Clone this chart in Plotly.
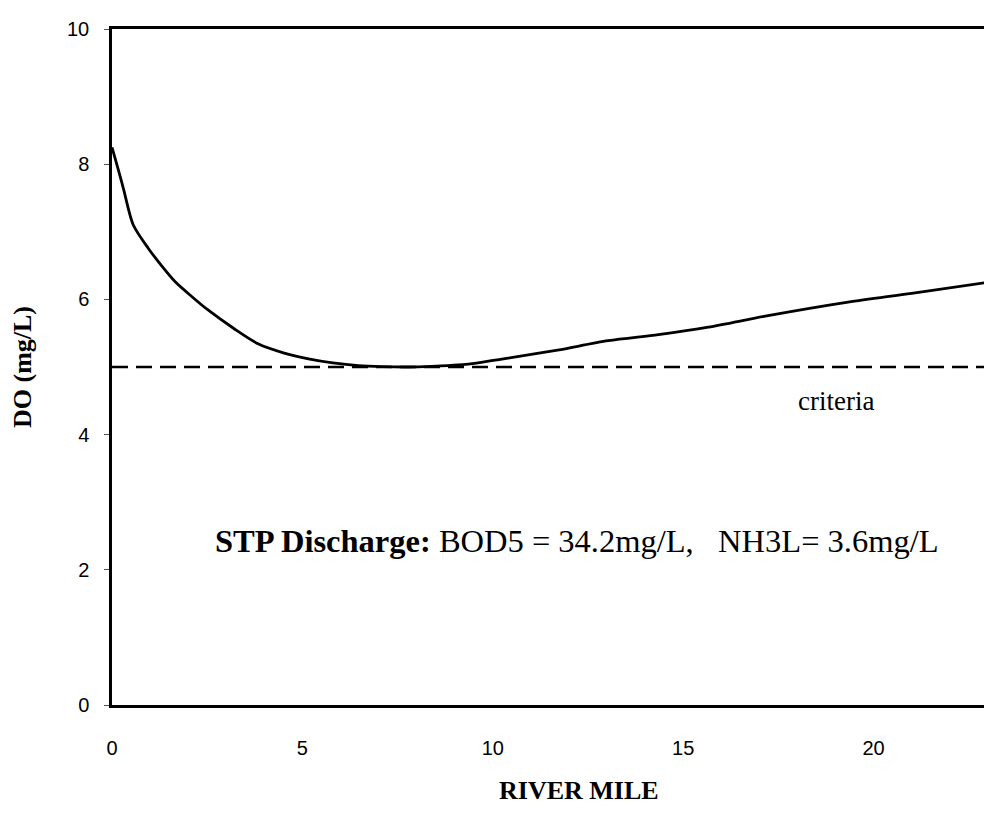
import plotly.graph_objects as go

# Data
river_mile = [0.0, 0.15, 0.3, 0.56, 0.96, 1.3, 1.66, 2.1, 2.53, 3.2, 3.85, 4.5,
              5.16, 5.8, 6.47, 7.1, 7.78, 8.4, 9.09, 9.7, 10.4, 11.7, 13.03,
              14.35, 15.66, 17.23, 19.33, 21.0, 23.32]
do_mgl = [8.25, 7.95, 7.64, 7.10, 6.75, 6.50, 6.26, 6.04, 5.84, 5.57, 5.34, 5.21,
          5.12, 5.06, 5.02, 5.005, 5.00, 5.01, 5.03, 5.07, 5.13, 5.25, 5.39,
          5.48, 5.59, 5.76, 5.96, 6.09, 6.28]
criteria_x = [0.0, 23.32]
criteria_y = [5.0, 5.0]
x_ticks = [0, 5, 10, 15, 20]
y_ticks = [0, 2, 4, 6, 8, 10]

SERIF = "Liberation Serif, Times New Roman, serif"
SANS = "Liberation Sans, Arial, sans-serif"

fig = go.Figure()
fig.add_trace(go.Scatter(x=river_mile, y=do_mgl, mode="lines",
                         line=dict(color="black", width=2.8, shape="spline", smoothing=0.8),
                         showlegend=False, hoverinfo="skip"))
fig.add_trace(go.Scatter(x=criteria_x, y=criteria_y, mode="lines",
                         line=dict(color="black", width=2.6, dash="16px,8px"),
                         showlegend=False, hoverinfo="skip"))

fig.add_annotation(x=19.0, y=4.5, xref="x", yref="y", text="criteria",
                   showarrow=False, font=dict(family=SERIF, size=27, color="black"))
fig.add_annotation(x=(205 - 103.5) / (992 - 103.5), y=2.42, xref="paper", yref="y",
                   xanchor="left", yanchor="middle",
                   text="<b>STP Discharge:</b> BOD5 = 34.2mg/L,\u00a0\u00a0\u00a0NH3L= 3.6mg/L",
                   showarrow=False, font=dict(family=SERIF, size=32.5, color="black"))
fig.add_annotation(x=(571 - 103.5) / (992 - 103.5), y=-(799 - 697) / (697 - 20.7),
                   xref="paper", yref="paper", text="<b>RIVER MILE</b>",
                   showarrow=False, font=dict(family=SERIF, size=26, color="black"))

fig.update_layout(
    width=992, height=814,
    margin=dict(l=103.5, r=0, t=20.7, b=117),
    plot_bgcolor="white", paper_bgcolor="white",
    xaxis=dict(range=[0, 23.32], tickvals=x_ticks, showgrid=False, zeroline=False,
               showline=True, linecolor="black", linewidth=2.5, mirror=True,
               ticks="", ticklabelstandoff=23,
               tickfont=dict(family=SANS, size=20, color="black")),
    yaxis=dict(range=[0, 10], tickvals=y_ticks, showgrid=False, zeroline=False,
               showline=True, linecolor="black", linewidth=2.5,
               ticks="outside", ticklen=5, tickwidth=1, tickcolor="#555",
               ticklabelstandoff=11,
               tickfont=dict(family=SANS, size=20, color="black"),
               title=dict(text="<b>DO (mg/L)</b>", standoff=38,
                          font=dict(family=SERIF, size=26, color="black"))),
)

fig.write_html("out.html")
